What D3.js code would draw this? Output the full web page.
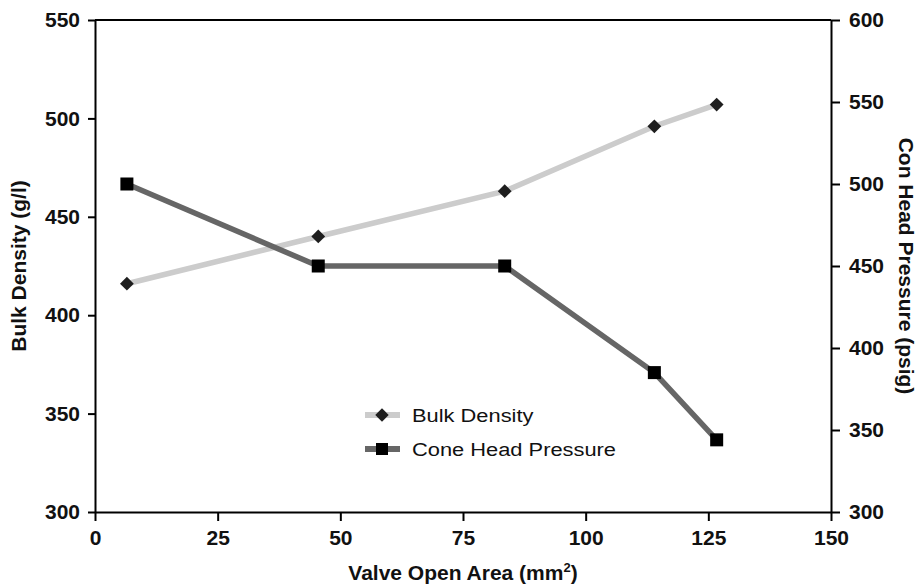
<!DOCTYPE html>
<html><head><meta charset="utf-8">
<script src="https://cdn.jsdelivr.net/npm/d3@7"></script>
<style>body{margin:0;background:#fff} text{font-family:"Liberation Sans",Arial,sans-serif}</style>
</head><body><svg id="c" width="920" height="584"></svg>
<script>
const valveArea = [6.5, 45.5, 83.5, 114, 126.7];
const bulkDensity = [416, 440, 463, 496, 507];
const conePressure = [500, 450, 450, 385, 344];
const xTicks = [0, 25, 50, 75, 100, 125, 150];
const yLeftTicks = [300, 350, 400, 450, 500, 550];
const yRightTicks = [300, 350, 400, 450, 500, 550, 600];
const seriesNames = ["Bulk Density", "Cone Head Pressure"];

const svg = d3.select("#c");
const L = 95, R = 831, T = 20, B = 512;
const x = d3.scaleLinear().domain([0, 150]).range([L, R]);
const yL = d3.scaleLinear().domain([300, 550]).range([B, T]);
const yR = d3.scaleLinear().domain([300, 600]).range([B, T]);

function styleAxis(g) {
  g.selectAll("path.domain").attr("stroke", "#000").attr("stroke-width", 2);
  g.selectAll(".tick line").attr("stroke", "#000").attr("stroke-width", 2);
  g.selectAll(".tick text").attr("fill", "#111").style("font-size", "21px").style("font-weight", "bold")
    .style("font-family", '"Liberation Sans",Arial,sans-serif');
}

// top frame
svg.append("line").attr("x1", L).attr("x2", R).attr("y1", T).attr("y2", T)
  .attr("stroke", "#000").attr("stroke-width", 2);

svg.append("g").attr("transform", `translate(0,${B})`)
  .call(d3.axisBottom(x).tickValues(xTicks).tickSize(9).tickSizeOuter(0).tickPadding(9))
  .call(styleAxis);
svg.append("g").attr("transform", `translate(${L},0)`)
  .call(d3.axisLeft(yL).tickValues(yLeftTicks).tickSize(7).tickSizeOuter(0).tickPadding(8))
  .call(styleAxis);
svg.append("g").attr("transform", `translate(${R},0)`)
  .call(d3.axisRight(yR).tickValues(yRightTicks).tickSize(9).tickSizeOuter(0).tickPadding(9))
  .call(styleAxis);

// lines
const bulkColor = "#cccccc", coneColor = "#666666";
const bulkPts = valveArea.map((v, i) => [v, bulkDensity[i]]);
const conePts = valveArea.map((v, i) => [v, conePressure[i]]);

svg.append("path").datum(bulkPts)
  .attr("d", d3.line().x(d => x(d[0])).y(d => yL(d[1])))
  .attr("fill", "none").attr("stroke", bulkColor).attr("stroke-width", 5.5);
svg.append("path").datum(conePts)
  .attr("d", d3.line().x(d => x(d[0])).y(d => yR(d[1])))
  .attr("fill", "none").attr("stroke", coneColor).attr("stroke-width", 5.5);

const diamond = d3.symbol().type(d3.symbolSquare).size(95);
svg.selectAll(".dm").data(bulkPts).join("path")
  .attr("d", diamond)
  .attr("transform", d => `translate(${x(d[0])},${yL(d[1])}) rotate(45)`)
  .attr("fill", "#1e1e1e");
svg.selectAll(".sq").data(conePts).join("rect")
  .attr("x", d => x(d[0]) - 6.5).attr("y", d => yR(d[1]) - 6.5)
  .attr("width", 13).attr("height", 13).attr("fill", "#000");

// legend
const lg = svg.append("g");
const rows = [
  { name: seriesNames[0], color: bulkColor, y: 415, mark: "d" },
  { name: seriesNames[1], color: coneColor, y: 449, mark: "s" }
];
rows.forEach(r => {
  lg.append("line").attr("x1", 365).attr("x2", 400).attr("y1", r.y).attr("y2", r.y)
    .attr("stroke", r.color).attr("stroke-width", 6);
  if (r.mark === "d") {
    lg.append("path").attr("d", d3.symbol().type(d3.symbolSquare).size(90))
      .attr("transform", `translate(382,${r.y}) rotate(45)`).attr("fill", "#1e1e1e");
  } else {
    lg.append("rect").attr("x", 376).attr("y", r.y - 6).attr("width", 12).attr("height", 12).attr("fill", "#000");
  }
  lg.append("text").attr("transform", `translate(412,${r.y}) scale(1.15,1)`).attr("dy", "0.36em")
    .style("font-size", "19px").attr("fill", "#111").text(r.name);
});

// axis titles
const xt = svg.append("text").attr("x", (L + R) / 2).attr("y", 580).attr("text-anchor", "middle")
  .style("font-size", "21px").style("font-weight", "bold").attr("fill", "#111");
xt.append("tspan").text("Valve Open Area (mm");
xt.append("tspan").attr("dy", -8).style("font-size", "13px").text("2");
xt.append("tspan").attr("dy", 8).text(")");

svg.append("text").attr("transform", `translate(26,${(T + B) / 2}) rotate(-90)`)
  .attr("text-anchor", "middle").style("font-size", "21px").style("font-weight", "bold")
  .attr("fill", "#111").text("Bulk Density (g/l)");
svg.append("text").attr("transform", `translate(899,${(T + B) / 2}) rotate(90)`)
  .attr("text-anchor", "middle").style("font-size", "21px").style("font-weight", "bold")
  .attr("fill", "#111").text("Con Head Pressure (psig)");
</script></body></html>
